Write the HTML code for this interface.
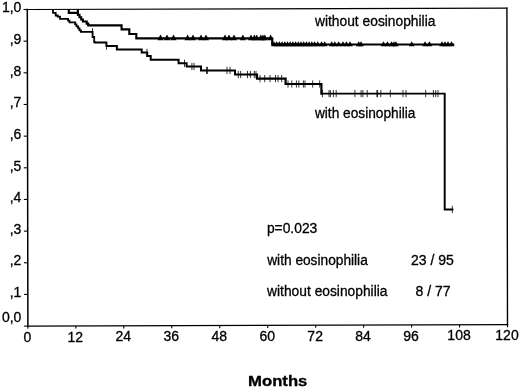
<!DOCTYPE html>
<html lang="en">
<head>
<meta charset="utf-8">
<title>Kaplan-Meier survival: with vs. without eosinophilia</title>
<style>
html,body{margin:0;padding:0;background:#fff;}
body{width:520px;height:388px;overflow:hidden;font-family:"Liberation Sans", Arial, Helvetica, sans-serif;}
svg text{font-family:"Liberation Sans", Arial, Helvetica, sans-serif;}
</style>
</head>
<body>
<svg width="520" height="388" viewBox="0 0 520 388" style="display:block">
<rect width="520" height="388" fill="#fff"/>
<g stroke="#000" fill="none" stroke-linecap="square">
<line x1="27.3" y1="9.5" x2="506.9" y2="8.1" stroke-width="1.2"/>
<line x1="506.9" y1="8.1" x2="507.5" y2="324.7" stroke-width="1.4"/>
<line x1="27.9" y1="326.1" x2="507.5" y2="324.7" stroke-width="1.3"/>
<line x1="27.3" y1="9.5" x2="27.9" y2="326.1" stroke-width="1.5"/>
</g>
<g stroke="#000" stroke-width="1.1">
<line x1="24.10" y1="326.10" x2="27.90" y2="326.10"/>
<line x1="24.04" y1="294.44" x2="27.84" y2="294.44"/>
<line x1="23.98" y1="262.78" x2="27.78" y2="262.78"/>
<line x1="23.92" y1="231.12" x2="27.72" y2="231.12"/>
<line x1="23.86" y1="199.46" x2="27.66" y2="199.46"/>
<line x1="23.80" y1="167.80" x2="27.60" y2="167.80"/>
<line x1="23.74" y1="136.14" x2="27.54" y2="136.14"/>
<line x1="23.68" y1="104.48" x2="27.48" y2="104.48"/>
<line x1="23.62" y1="72.82" x2="27.42" y2="72.82"/>
<line x1="23.56" y1="41.16" x2="27.36" y2="41.16"/>
<line x1="23.50" y1="9.50" x2="27.30" y2="9.50"/>
<line x1="27.90" y1="326.10" x2="27.90" y2="328.70"/>
<line x1="75.86" y1="325.96" x2="75.86" y2="328.56"/>
<line x1="123.82" y1="325.82" x2="123.82" y2="328.42"/>
<line x1="171.78" y1="325.68" x2="171.78" y2="328.28"/>
<line x1="219.74" y1="325.54" x2="219.74" y2="328.14"/>
<line x1="267.70" y1="325.40" x2="267.70" y2="328.00"/>
<line x1="315.66" y1="325.26" x2="315.66" y2="327.86"/>
<line x1="363.62" y1="325.12" x2="363.62" y2="327.72"/>
<line x1="411.58" y1="324.98" x2="411.58" y2="327.58"/>
<line x1="459.54" y1="324.84" x2="459.54" y2="327.44"/>
<line x1="507.50" y1="324.70" x2="507.50" y2="327.30"/>
</g>
<g font-family='"Liberation Sans", Arial, Helvetica, sans-serif' fill="#000" stroke="#000" stroke-width="0.3">
<text x="21.4" y="322.20" font-size="14" text-anchor="end">0,0</text>
<text x="21.4" y="297.14" font-size="14" text-anchor="end">,1</text>
<text x="21.4" y="265.48" font-size="14" text-anchor="end">,2</text>
<text x="21.4" y="233.82" font-size="14" text-anchor="end">,3</text>
<text x="21.4" y="202.16" font-size="14" text-anchor="end">,4</text>
<text x="21.4" y="170.50" font-size="14" text-anchor="end">,5</text>
<text x="21.4" y="138.84" font-size="14" text-anchor="end">,6</text>
<text x="21.4" y="107.18" font-size="14" text-anchor="end">,7</text>
<text x="21.4" y="75.52" font-size="14" text-anchor="end">,8</text>
<text x="21.4" y="43.86" font-size="14" text-anchor="end">,9</text>
<text x="21.4" y="11.90" font-size="14" text-anchor="end">1,0</text>
<text x="27.40" y="341.70" font-size="14" text-anchor="middle">0</text>
<text x="75.36" y="341.56" font-size="14" text-anchor="middle">12</text>
<text x="123.32" y="341.42" font-size="14" text-anchor="middle">24</text>
<text x="171.28" y="341.28" font-size="14" text-anchor="middle">36</text>
<text x="219.24" y="341.14" font-size="14" text-anchor="middle">48</text>
<text x="267.20" y="341.00" font-size="14" text-anchor="middle">60</text>
<text x="315.16" y="340.86" font-size="14" text-anchor="middle">72</text>
<text x="363.12" y="340.72" font-size="14" text-anchor="middle">84</text>
<text x="411.08" y="340.58" font-size="14" text-anchor="middle">96</text>
<text x="459.04" y="340.44" font-size="14" text-anchor="middle">108</text>
<text x="507.00" y="340.30" font-size="14" text-anchor="middle">120</text>
<text x="315.0" y="25.6" font-size="14" textLength="120.4" lengthAdjust="spacingAndGlyphs">without eosinophilia</text>
<text x="314.9" y="118.4" font-size="14" textLength="100.6" lengthAdjust="spacingAndGlyphs">with eosinophilia</text>
<text x="266.9" y="233.2" font-size="14" textLength="50.4" lengthAdjust="spacingAndGlyphs">p=0.023</text>
<text x="267.2" y="264.9" font-size="14" textLength="100.6" lengthAdjust="spacingAndGlyphs">with eosinophilia</text>
<text x="411.0" y="264.8" font-size="14">23 / 95</text>
<text x="267.1" y="296.1" font-size="14" textLength="120.4" lengthAdjust="spacingAndGlyphs">without eosinophilia</text>
<text x="415.6" y="295.7" font-size="14">8 / 77</text>
<text x="248.1" y="385.7" font-size="14.4" font-weight="bold" textLength="59.3" lengthAdjust="spacingAndGlyphs">Months</text>
</g>
<path d="M53,9.3 V12.8 H55.7 V15.5 H57.7 V16.6 H60 V18.8 H68.1 V20.6 H69.5 V22.4 H75.2 V24.3 H76.5 V26.3 H78.2 V28.3 H79.5 V30.3 H80.9 V31.8 H92.6 V37 H94.2 V42.4 H96" fill="none" stroke="#000" stroke-width="1.8" stroke-linejoin="miter"/>
<path d="M95,42.4 H106.4 V46.1 H116.9 V49.6 H141.7 V52.4 H147.2 V56 H150.7 V59.7 H178.6 V63.3 H186.6 V66.4 H201 V70.4 H235 V74.5 H250" fill="none" stroke="#000" stroke-width="2.0" stroke-linejoin="miter"/>
<path d="M249,74.5 H257 V78.6 H285.6 V84 H321.4 V93.6 H323" fill="none" stroke="#000" stroke-width="2.2" stroke-linejoin="miter"/>
<path d="M322,93.6 H444.7 V209.5 H453.4" fill="none" stroke="#000" stroke-width="1.95" stroke-linejoin="miter"/>
<path d="M68.8,9.3 V12.8 H77.9 M77.9,9.3 V14.8 H79.5 V17.2 H81.2 V19.5 H82.9 V21.5 H86.7 V23.6 H88.2 V25.4 H121.6 V29.3 H129.3 V34 H136.3 V38.3 H272.2 V44.5 H454.3" fill="none" stroke="#000" stroke-width="2.15" stroke-linejoin="miter"/>
<g stroke="#000" stroke-width="0.8">
<line x1="92.5" y1="28.2" x2="92.5" y2="35.4"/>
<line x1="106.5" y1="42.5" x2="106.5" y2="49.7"/>
<line x1="147.0" y1="48.8" x2="147.0" y2="56.0"/>
<line x1="184.5" y1="59.7" x2="184.5" y2="66.9"/>
<line x1="191.9" y1="62.8" x2="191.9" y2="70.0"/>
<line x1="194" y1="62.8" x2="194" y2="70.0"/>
<line x1="206.6" y1="66.8" x2="206.6" y2="74.0"/>
<line x1="207.4" y1="66.8" x2="207.4" y2="74.0"/>
<line x1="227" y1="66.8" x2="227" y2="74.0"/>
<line x1="230" y1="66.8" x2="230" y2="74.0"/>
<line x1="238.3" y1="70.9" x2="238.3" y2="78.1"/>
<line x1="240.7" y1="70.9" x2="240.7" y2="78.1"/>
<line x1="247.5" y1="70.9" x2="247.5" y2="78.1"/>
<line x1="250.4" y1="70.9" x2="250.4" y2="78.1"/>
<line x1="254.3" y1="70.9" x2="254.3" y2="78.1"/>
<line x1="256" y1="70.9" x2="256" y2="78.1"/>
<line x1="260" y1="75.0" x2="260" y2="82.2"/>
<line x1="264.7" y1="75.0" x2="264.7" y2="82.2"/>
<line x1="270" y1="75.0" x2="270" y2="82.2"/>
<line x1="275.5" y1="75.0" x2="275.5" y2="82.2"/>
<line x1="278" y1="75.0" x2="278" y2="82.2"/>
<line x1="281.7" y1="75.0" x2="281.7" y2="82.2"/>
<line x1="288" y1="80.4" x2="288" y2="87.6"/>
<line x1="291.8" y1="80.4" x2="291.8" y2="87.6"/>
<line x1="296.4" y1="80.4" x2="296.4" y2="87.6"/>
<line x1="298.8" y1="80.4" x2="298.8" y2="87.6"/>
<line x1="303.4" y1="80.4" x2="303.4" y2="87.6"/>
<line x1="305" y1="80.4" x2="305" y2="87.6"/>
<line x1="312.7" y1="80.4" x2="312.7" y2="87.6"/>
<line x1="319.7" y1="80.4" x2="319.7" y2="87.6"/>
<line x1="322.4" y1="90.0" x2="322.4" y2="97.2"/>
<line x1="329.0" y1="90.0" x2="329.0" y2="97.2"/>
<line x1="330.4" y1="90.0" x2="330.4" y2="97.2"/>
<line x1="333.4" y1="90.0" x2="333.4" y2="97.2"/>
<line x1="336.2" y1="90.0" x2="336.2" y2="97.2"/>
<line x1="354.9" y1="90.0" x2="354.9" y2="97.2"/>
<line x1="361.1" y1="90.0" x2="361.1" y2="97.2"/>
<line x1="362.9" y1="90.0" x2="362.9" y2="97.2"/>
<line x1="367.2" y1="90.0" x2="367.2" y2="97.2"/>
<line x1="376.9" y1="90.0" x2="376.9" y2="97.2"/>
<line x1="377.6" y1="90.0" x2="377.6" y2="97.2"/>
<line x1="380.8" y1="90.0" x2="380.8" y2="97.2"/>
<line x1="390.3" y1="90.0" x2="390.3" y2="97.2"/>
<line x1="403" y1="90.0" x2="403" y2="97.2"/>
<line x1="406" y1="90.0" x2="406" y2="97.2"/>
<line x1="425.7" y1="90.0" x2="425.7" y2="97.2"/>
<line x1="433.4" y1="90.0" x2="433.4" y2="97.2"/>
<line x1="435.7" y1="90.0" x2="435.7" y2="97.2"/>
<line x1="438" y1="90.0" x2="438" y2="97.2"/>
<line x1="452.3" y1="205.9" x2="452.3" y2="213.1"/>
</g>
<g fill="#000">
<polygon points="157.4,40.3 163.6,40.3 160.5,34.5"/>
<polygon points="163.9,40.3 170.1,40.3 167.0,34.5"/>
<polygon points="170.4,40.3 176.6,40.3 173.5,34.5"/>
<polygon points="184.5,40.3 190.7,40.3 187.6,34.5"/>
<polygon points="189.9,40.3 196.1,40.3 193.0,34.5"/>
<polygon points="197.9,40.3 204.1,40.3 201.0,34.5"/>
<polygon points="202.9,40.3 209.1,40.3 206.0,34.5"/>
<polygon points="221.9,40.3 228.1,40.3 225.0,34.5"/>
<polygon points="225.9,40.3 232.1,40.3 229.0,34.5"/>
<polygon points="230.9,40.3 237.1,40.3 234.0,34.5"/>
<polygon points="239.8,40.3 246.0,40.3 242.9,34.5"/>
<polygon points="247.9,40.3 254.1,40.3 251.0,34.5"/>
<polygon points="251.3,40.3 257.5,40.3 254.4,34.5"/>
<polygon points="253.6,40.3 259.8,40.3 256.7,34.5"/>
<polygon points="257.7,40.3 263.9,40.3 260.8,34.5"/>
<polygon points="259.9,40.3 266.1,40.3 263.0,34.5"/>
<polygon points="261.7,40.3 267.9,40.3 264.8,34.5"/>
<polygon points="267.5,40.3 273.7,40.3 270.6,34.5"/>
<polygon points="271.1,46.2 276.9,46.2 274.0,41.3"/>
<polygon points="273.8,46.2 279.6,46.2 276.7,41.3"/>
<polygon points="276.5,46.2 282.3,46.2 279.4,41.3"/>
<polygon points="279.2,46.2 285.0,46.2 282.1,41.3"/>
<polygon points="281.9,46.2 287.7,46.2 284.8,41.3"/>
<polygon points="284.6,46.2 290.4,46.2 287.5,41.3"/>
<polygon points="287.3,46.2 293.1,46.2 290.2,41.3"/>
<polygon points="290.0,46.2 295.8,46.2 292.9,41.3"/>
<polygon points="292.7,46.2 298.5,46.2 295.6,41.3"/>
<polygon points="295.4,46.2 301.2,46.2 298.3,41.3"/>
<polygon points="298.1,46.2 303.9,46.2 301.0,41.3"/>
<polygon points="300.8,46.2 306.6,46.2 303.7,41.3"/>
<polygon points="303.5,46.2 309.3,46.2 306.4,41.3"/>
<polygon points="306.2,46.2 312.0,46.2 309.1,41.3"/>
<polygon points="308.9,46.2 314.7,46.2 311.8,41.3"/>
<polygon points="311.7,46.2 317.5,46.2 314.6,41.3"/>
<polygon points="314.8,46.2 320.6,46.2 317.7,41.3"/>
<polygon points="318.7,46.2 324.5,46.2 321.6,41.3"/>
<polygon points="321.8,46.2 327.6,46.2 324.7,41.3"/>
<polygon points="328.8,46.2 334.6,46.2 331.7,41.3"/>
<polygon points="331.9,46.2 337.7,46.2 334.8,41.3"/>
<polygon points="335.7,46.2 341.5,46.2 338.6,41.3"/>
<polygon points="340.1,46.2 345.9,46.2 343.0,41.3"/>
<polygon points="343.5,46.2 349.3,46.2 346.4,41.3"/>
<polygon points="347.1,46.2 352.9,46.2 350.0,41.3"/>
<polygon points="355.9,46.2 361.7,46.2 358.8,41.3"/>
<polygon points="358.1,46.2 363.9,46.2 361.0,41.3"/>
<polygon points="380.6,46.2 386.4,46.2 383.5,41.3"/>
<polygon points="384.5,46.2 390.3,46.2 387.4,41.3"/>
<polygon points="388.7,46.2 394.5,46.2 391.6,41.3"/>
<polygon points="391.1,46.2 396.9,46.2 394.0,41.3"/>
<polygon points="393.1,46.2 398.9,46.2 396.0,41.3"/>
<polygon points="408.8,46.2 414.6,46.2 411.7,41.3"/>
<polygon points="422.1,46.2 427.9,46.2 425.0,41.3"/>
<polygon points="426.6,46.2 432.4,46.2 429.5,41.3"/>
<polygon points="439.1,46.2 444.9,46.2 442.0,41.3"/>
<polygon points="442.1,46.2 447.9,46.2 445.0,41.3"/>
<polygon points="445.1,46.2 450.9,46.2 448.0,41.3"/>
<polygon points="448.6,46.2 454.4,46.2 451.5,41.3"/>
</g>
</svg>
</body>
</html>
